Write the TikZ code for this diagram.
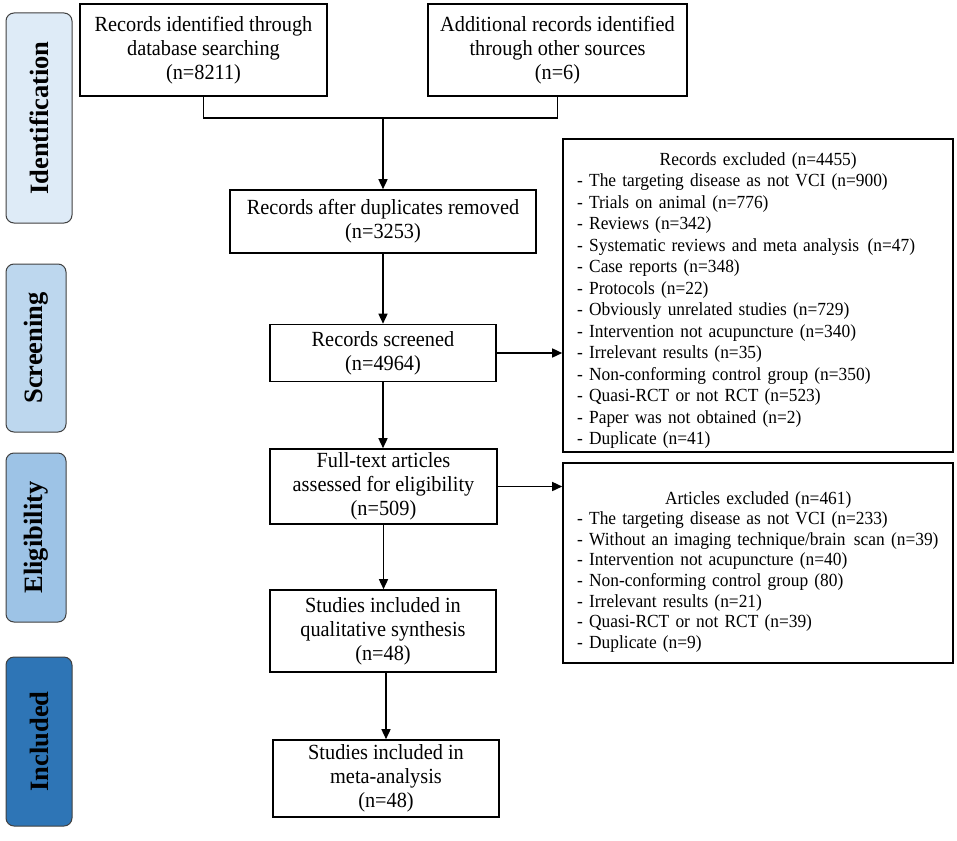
\documentclass[tikz,border=0pt]{standalone}
\usepackage{fontspec}
\setmainfont{Liberation Serif}
\newfontfamily\narrowserif[FakeStretch=0.94]{Liberation Serif}
\usepackage{graphicx}
\usetikzlibrary{arrows.meta}
\definecolor{idc}{HTML}{DEEBF7}
\definecolor{scc}{HTML}{BDD7EE}
\definecolor{elc}{HTML}{9DC3E6}
\definecolor{inc}{HTML}{2E75B6}
\begin{document}
\begin{tikzpicture}[x=1pt,y=-1pt,
  flowbox/.style={draw=black, line width=1.6pt, inner sep=0pt, align=center, font=\narrowserif\fontsize{21.6}{24}\selectfont},
  phase/.style={draw=black!75, line width=1pt, rounded corners=8pt, inner sep=0pt, font=\bfseries\fontsize{26.5}{30}\selectfont},
  exbox/.style={draw=black, line width=1.6pt, inner sep=0pt},
  extext/.style={inner sep=0pt, anchor=north west, text width=362pt},
  conn/.style={line width=1.5pt},
  arr/.style={conn, -{Triangle[length=10pt,width=9pt]}}]
\useasboundingbox (0,0) rectangle (957,840);

% phase labels
\node[phase, fill=idc, minimum width=66pt, minimum height=210pt] (ident) at (39,118) {\rotatebox{90}{Identification}};
\node[phase, fill=scc, minimum width=60pt, minimum height=168pt] (screen) at (36,348) {\rotatebox{90}{Screening}};
\node[phase, fill=elc, minimum width=60pt, minimum height=169pt] (elig) at (36,537.5) {\rotatebox{90}{Eligibility}};
\node[phase, fill=inc, minimum width=66pt, minimum height=169pt] (incl) at (39,741.5) {\rotatebox{90}{Included}};

% main flow boxes
\node[flowbox, minimum width=247pt, minimum height=92pt] (db) at (203.5,50) {Records identified through\\database searching\\(n=8211)};
\node[flowbox, minimum width=259pt, minimum height=92pt] (other) at (557.5,50) {Additional records identified\\through other sources\\(n=6)};
\node[flowbox, minimum width=306pt, minimum height=63pt] (dup) at (383,221.5) {Records after duplicates removed\\(n=3253)};
\node[flowbox, minimum width=226pt, minimum height=57pt] (scr) at (383,353) {Records screened\\(n=4964)};
\node[flowbox, minimum width=227pt, minimum height=75pt] (full) at (383.5,486.5) {Full-text articles\\assessed for eligibility\\(n=509)};
\node[flowbox, minimum width=226pt, minimum height=82pt] (qual) at (383,631) {Studies included in\\qualitative synthesis\\(n=48)};
\node[flowbox, minimum width=226pt, minimum height=77pt] (meta) at (386,778.5) {Studies included in\\meta-analysis\\(n=48)};

% exclusion boxes
\node[exbox, minimum width=390pt, minimum height=313pt] (excl1) at (758,295.5) {};
\node[exbox, minimum width=390pt, minimum height=200pt] (excl2) at (758,563) {};
\node[extext, font=\narrowserif\fontsize{18.5}{21.5}\selectfont] (excl1txt) at (577,152) {{\centering Records excluded (n=4455)\par}\raggedright
- The targeting disease as not VCI (n=900)\\
- Trials on animal (n=776)\\
- Reviews (n=342)\\
\mbox{- Systematic reviews and meta analysis\ \hspace{0.12em}(n=47)}\\
- Case reports (n=348)\\
- Protocols (n=22)\\
- Obviously unrelated studies (n=729)\\
- Intervention not acupuncture (n=340)\\
- Irrelevant results (n=35)\\
- Non-conforming control group (n=350)\\
- Quasi-RCT or not RCT (n=523)\\
- Paper was not obtained (n=2)\\
- Duplicate (n=41)};
\node[extext, font=\narrowserif\fontsize{18.5}{20.6}\selectfont] (excl2txt) at (577,491) {{\centering Articles excluded (n=461)\par}\raggedright
- The targeting disease as not VCI (n=233)\\
\mbox{- Without an imaging technique/brain\ \hspace{0.12em}scan (n=39)}\\
- Intervention not acupuncture (n=40)\\
- Non-conforming control group (80)\\
- Irrelevant results (n=21)\\
- Quasi-RCT or not RCT (n=39)\\
- Duplicate (n=9)};

% connectors
\coordinate (j) at (383,118);
\draw[conn] (db.south) |- (j) -| (other.south);
\draw[arr] (j) -- (dup.north);
\draw[arr] (dup.south) -- (scr.north);
\draw[arr] (scr.south) -- (scr.south |- full.north);
\draw[arr] (full.south) -- (full.south |- qual.north);
\draw[arr] (meta.north |- qual.south) -- (meta.north);
\draw[arr] (scr.east) -- (scr.east -| excl1.west);
\draw[arr] (full.east) -- (full.east -| excl2.west);
\end{tikzpicture}
\end{document}
